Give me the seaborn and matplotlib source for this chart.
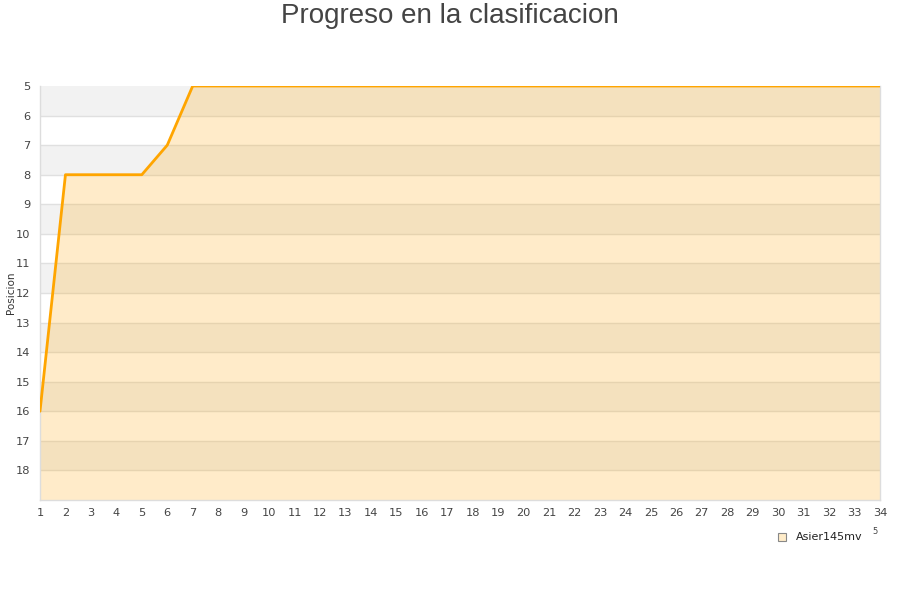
import matplotlib
matplotlib.use("Agg")
import matplotlib.pyplot as plt
import seaborn as sns
import pandas as pd
import numpy as np

jornadas = list(range(1, 35))
posiciones = [16, 8, 8, 8, 8, 7, 5] + [5] * 27
serie = "Asier145mv"
titulo = "Progreso en la clasificacion"
ylabel = "Posicion"

sns.set_theme(style="white")
plt.rcParams['font.family'] = ['DejaVu Sans']

df = pd.DataFrame({"Jornada": jornadas, "Posicion": posiciones, "Jugador": serie})

fig = plt.figure(figsize=(9, 6), dpi=100)
ax = fig.add_axes([40/900, 1-500/600, 840/900, 414/600])

ymin, ymax = 5, 19
# alternating background bands
for y0 in range(ymin, ymax):
    if (y0 - ymin) % 2 == 0:
        ax.axhspan(y0, y0 + 1, color="#f2f2f2", lw=0, zorder=0)
for y in range(ymin + 1, ymax):
    ax.axhline(y, color="#e0e0e0", lw=1, zorder=1)

ax.fill_between(df["Jornada"], df["Posicion"], ymax, color="#FFA500", alpha=0.21, lw=0, zorder=2)
sns.lineplot(data=df, x="Jornada", y="Posicion", color="#FFA500", lw=2, ax=ax, zorder=3, legend=False)

ax.set_xlim(1, 34)
ax.set_ylim(ymax, ymin)
ax.set_xticks(jornadas)
ax.set_yticks(list(range(5, 19)))
ax.tick_params(axis="both", labelsize=8.2, colors="#444444", length=0)
ax.tick_params(axis="x", pad=6)
ax.tick_params(axis="y", pad=7)
ax.set_xlabel("")
ax.set_ylabel("")
for s in ["left", "bottom", "right"]:
    ax.spines[s].set_color("#dddddd")
    ax.spines[s].set_linewidth(1)
ax.spines["top"].set_visible(False)

fig.text(11/900, 1-293/600, ylabel, ha="center", va="center", rotation=90,
         fontsize=7.5, color="#333333")

fig.text(0.5, 1 - 16/600, titulo, ha="center", va="center", fontsize=20,
         color="#444444", family=["Liberation Sans", "DejaVu Sans"])

from matplotlib.patches import Rectangle
fig.patches.append(Rectangle((778/900, 1-541/600), 8/900, 8/600, transform=fig.transFigure,
                             facecolor="#ffecc9", edgecolor="#888888", lw=0.8))
fig.text(796/900, 1-537/600, serie, ha="left", va="center", fontsize=8, color="#222222")
fig.text(875/900, 1-532/600, "5", ha="center", va="center", fontsize=6, color="#444444")

fig.savefig("out.png", dpi=100)
